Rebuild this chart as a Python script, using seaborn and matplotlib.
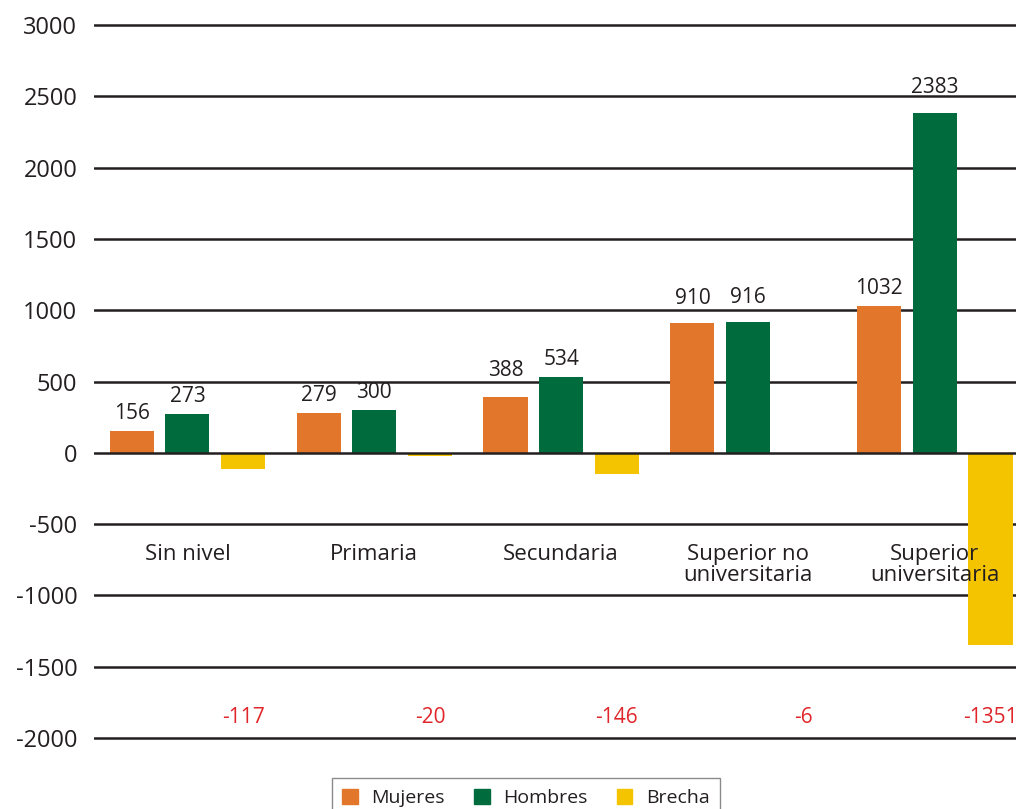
import matplotlib
matplotlib.use("Agg")
import matplotlib.pyplot as plt
import seaborn as sns
import pandas as pd

categories = ["Sin nivel", "Primaria", "Secundaria", "Superior no\nuniversitaria", "Superior\nuniversitaria"]
mujeres = [156, 279, 388, 910, 1032]
hombres = [273, 300, 534, 916, 2383]
brecha = [-117, -20, -146, -6, -1351]
series = ["Mujeres", "Hombres", "Brecha"]
yticks = [-2000, -1500, -1000, -500, 0, 500, 1000, 1500, 2000, 2500, 3000]

colors = {"Mujeres": "#E2762A", "Hombres": "#006C3D", "Brecha": "#F5C400"}
text_color = "#231F20"

# extra lift (points) for some value labels, keyed by (series index, category index)
label_lift = {(0, 2): 7, (0, 3): 5, (1, 3): 5, (1, 4): 6}

sns.set_theme(style="white")
plt.rcParams["font.family"] = ["Open Sans", "DejaVu Sans"]

df = pd.DataFrame({
    "cat": categories * 3,
    "serie": [s for s in series for _ in categories],
    "valor": mujeres + hombres + brecha,
})

fig = plt.figure(figsize=(10.16, 8.09), dpi=100)
ax = fig.add_axes([94 / 1016, 1 - 742.3 / 809, 1 - 94 / 1016 + 0.002, (742.3 - 20.7) / 809])

sns.barplot(data=df, x="cat", y="valor", hue="serie", hue_order=series,
            order=categories, palette=colors, width=0.893, gap=0.207,
            saturation=1, errorbar=None, linewidth=0, edgecolor="none",
            ax=ax, zorder=3)

ax.set_ylim(-2030, 3030)
ax.set_xlim(-0.5, 4.445)
ax.set_yticks(yticks)
ax.set_yticklabels([str(v) for v in yticks], fontsize=17, color=text_color)
ax.tick_params(axis="y", length=0, pad=12)
ax.set_xticks([])
ax.set_xlabel("")
ax.set_ylabel("")
for s in ax.spines.values():
    s.set_visible(False)
for v in yticks:
    # the zero line stays on top of the bars
    ax.axhline(v, color=text_color, lw=1.8, zorder=4 if v == 0 else 1)

# value labels over the positive bars
containers = ax.containers
for si, (cont, vals) in enumerate(zip(containers[:2], [mujeres, hombres])):
    for ci, (bar, v) in enumerate(zip(cont, vals)):
        ax.annotate(str(v), (bar.get_x() + bar.get_width() / 2, v),
                    xytext=(0, 5 + label_lift.get((si, ci), 0)), textcoords="offset points",
                    ha="center", va="bottom", fontsize=15, color=text_color, zorder=5)

# gap labels in red near the bottom
for bar, v in zip(containers[2], brecha):
    ax.text(bar.get_x() + bar.get_width() / 2, -1853, str(v), ha="center", va="center",
            fontsize=15, color="#E0262A", zorder=5)

# category names inside the plot
for i, c in enumerate(categories):
    ax.text(i, -640, c, ha="center", va="top", fontsize=16, color=text_color,
            linespacing=1.0, zorder=4)

ax.get_legend().remove()
handles = [plt.Rectangle((0, 0), 1, 1, color=colors[s]) for s in series]
leg = fig.legend(handles, series, loc="upper center", bbox_to_anchor=(526 / 1016, 1 - 778 / 809),
                 ncol=3, frameon=True, fancybox=False, fontsize=14, handlelength=0.8,
                 handleheight=0.8, handletextpad=0.7, columnspacing=1.5,
                 borderpad=0.55, borderaxespad=0)
leg.get_frame().set_edgecolor("#6d6e71")
leg.get_frame().set_linewidth(1.0)
for t in leg.get_texts():
    t.set_color(text_color)

fig.savefig("out.png", dpi=100)
